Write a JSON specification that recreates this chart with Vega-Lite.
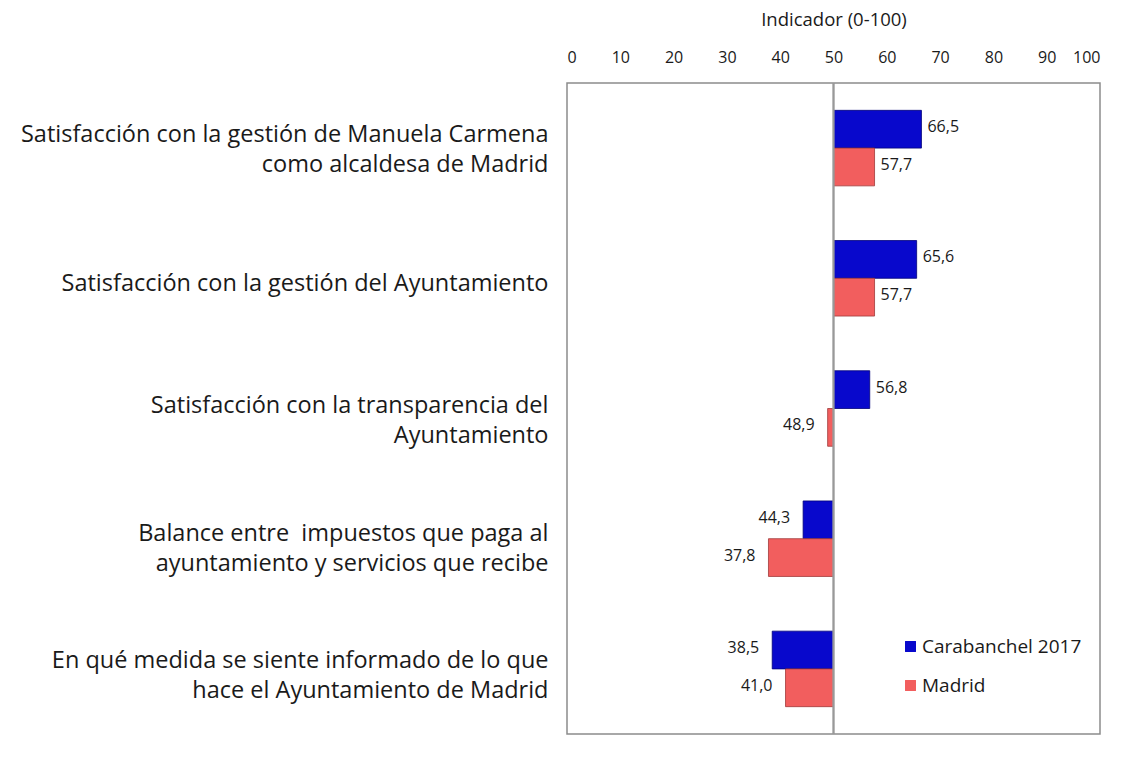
{
  "$schema": "https://vega.github.io/schema/vega-lite/v6.json",
  "width": 533,
  "height": 651,
  "autosize": {"type": "none"},
  "padding": {"left": 567, "top": 83, "right": 28, "bottom": 30},
  "background": "white",
  "config": {
    "font": "Open Sans",
    "locale": {"number": {"decimal": ",", "thousands": ".", "grouping": [3], "currency": ["", " €"]}},
    "view": {"stroke": "#8c8c8c", "strokeWidth": 1.5}
  },
  "data": {
    "values": [
      {"cat": "Satisfacción con la gestión de Manuela Carmena|como alcaldesa de Madrid", "serie": "Carabanchel 2017", "value": 66.5},
      {"cat": "Satisfacción con la gestión de Manuela Carmena|como alcaldesa de Madrid", "serie": "Madrid", "value": 57.7},
      {"cat": "Satisfacción con la gestión del Ayuntamiento", "serie": "Carabanchel 2017", "value": 65.6},
      {"cat": "Satisfacción con la gestión del Ayuntamiento", "serie": "Madrid", "value": 57.7},
      {"cat": "Satisfacción con la transparencia del|Ayuntamiento", "serie": "Carabanchel 2017", "value": 56.8},
      {"cat": "Satisfacción con la transparencia del|Ayuntamiento", "serie": "Madrid", "value": 48.9},
      {"cat": "Balance entre\u00a0 impuestos que paga al|ayuntamiento y servicios que recibe\u00a0", "serie": "Carabanchel 2017", "value": 44.3},
      {"cat": "Balance entre\u00a0 impuestos que paga al|ayuntamiento y servicios que recibe\u00a0", "serie": "Madrid", "value": 37.8},
      {"cat": "En qué medida se siente informado de lo que|hace el Ayuntamiento de Madrid", "serie": "Carabanchel 2017", "value": 38.5},
      {"cat": "En qué medida se siente informado de lo que|hace el Ayuntamiento de Madrid", "serie": "Madrid", "value": 41.0}
    ]
  },
  "encoding": {
    "y": {
      "field": "cat", "type": "nominal", "sort": null,
      "scale": {"paddingInner": 0.42, "paddingOuter": 0.21},
      "axis": {
        "title": null, "domain": false, "ticks": false,
        "labelExpr": "split(datum.label, '|')",
        "labelFontSize": 23.5, "labelColor": "#1a1a1a", "labelLimit": 600,
        "labelPadding": 19, "labelLineHeight": 30, "labelAlign": "right",
        "labelOffset": {"expr": "indexof(datum.label, 'Manuela') >= 0 ? -13 : indexof(datum.label, 'transparencia') >= 0 ? -3 : indexof(datum.label, 'Balance') >= 0 ? -5 : indexof(datum.label, 'medida') >= 0 ? -8 : 6"}
      }
    },
    "yOffset": {"field": "serie", "type": "nominal", "sort": ["Carabanchel 2017", "Madrid"]}
  },
  "layer": [
    {
      "mark": {"type": "bar", "strokeWidth": 0.8},
      "encoding": {
        "x": {
          "field": "value", "type": "quantitative",
          "scale": {"domain": [0, 100], "nice": false, "zero": false},
          "axis": {
            "orient": "top", "values": [0,10,20,30,40,50,60,70,80,90,100],
            "title": "Indicador (0-100)", "titleFontSize": 18.5, "titleFontWeight": "normal", "titleColor": "#1a1a1a", "titlePadding": 20,
            "labelFontSize": 16, "labelColor": "#1a1a1a", "labelPadding": 18,
            "domain": false, "ticks": false, "grid": false
          }
        },
        "x2": {"datum": 50},
        "color": {
          "field": "serie", "type": "nominal",
          "scale": {"domain": ["Carabanchel 2017", "Madrid"], "range": ["#0808cc", "#f25e5e"]},
          "legend": {
            "title": null, "orient": "none", "legendX": 334, "legendY": 554,
            "symbolType": "square", "symbolSize": 120, "symbolStrokeWidth": 0,
            "labelFontSize": 19, "labelColor": "#1a1a1a", "rowPadding": 19, "labelOffset": 2
          }
        },
        "stroke": {
          "field": "serie", "type": "nominal",
          "scale": {"domain": ["Carabanchel 2017", "Madrid"], "range": ["#00007a", "#a03a3a"]},
          "legend": null
        }
      }
    },
    {
      "mark": {"type": "rule", "color": "#999", "strokeWidth": 1.2},
      "encoding": {"x": {"datum": 50}, "y": {"value": 0}, "y2": {"value": 651}, "yOffset": null}
    },
    {
      "transform": [{"filter": "datum.value >= 50"}],
      "mark": {"type": "text", "align": "left", "dx": 6, "dy": -2, "fontSize": 16, "color": "#1a1a1a"},
      "encoding": {
        "x": {"field": "value", "type": "quantitative"},
        "text": {"field": "value", "type": "quantitative", "format": ".1f"}
      }
    },
    {
      "transform": [{"filter": "datum.value < 50"}],
      "mark": {"type": "text", "align": "right", "dx": -13, "dy": -2, "fontSize": 16, "color": "#1a1a1a"},
      "encoding": {
        "x": {"field": "value", "type": "quantitative"},
        "text": {"field": "value", "type": "quantitative", "format": ".1f"}
      }
    }
  ]
}
